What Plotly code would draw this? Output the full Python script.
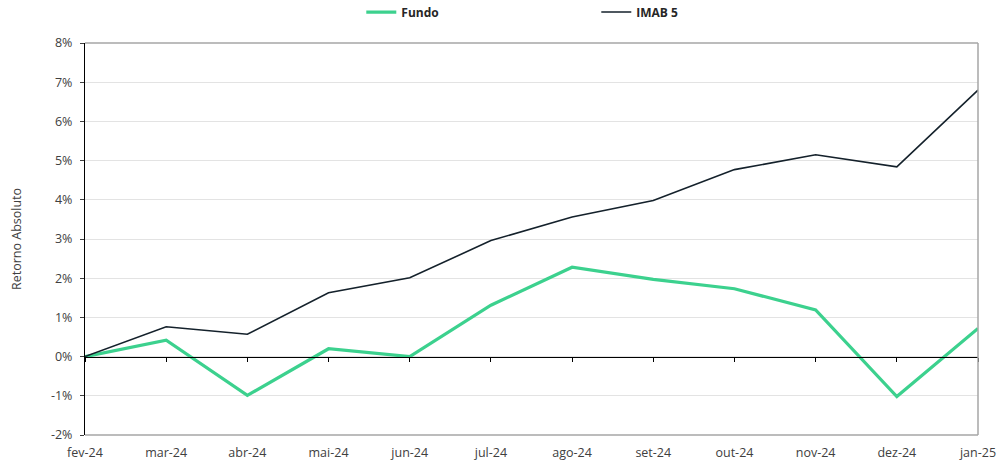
import plotly.graph_objects as go

months = ["fev-24", "mar-24", "abr-24", "mai-24", "jun-24", "jul-24", "ago-24",
          "set-24", "out-24", "nov-24", "dez-24", "jan-25"]
fundo = [0.00, 0.42, -0.99, 0.20, 0.00, 1.31, 2.28, 1.97, 1.73, 1.19, -1.02, 0.72]
imab5 = [0.00, 0.76, 0.57, 1.63, 2.01, 2.96, 3.56, 3.98, 4.77, 5.15, 4.84, 6.80]
y_ticks = [-2, -1, 0, 1, 2, 3, 4, 5, 6, 7, 8]
y_tick_labels = ["-2%", "-1%", "0%", "1%", "2%", "3%", "4%", "5%", "6%", "7%", "8%"]

FONT = "Open Sans"
idx = list(range(len(months)))

fig = go.Figure()
fig.add_trace(go.Scatter(x=idx, y=fundo, name="Fundo", mode="lines",
                         line=dict(color="#3CD18E", width=3.2)))
fig.add_trace(go.Scatter(x=idx, y=imab5, name="IMAB 5", mode="lines",
                         line=dict(color="#14212B", width=1.6)))

fig.update_layout(
    width=997, height=463,
    margin=dict(l=85, r=19, t=43, b=28, autoexpand=False),
    paper_bgcolor="white", plot_bgcolor="white",
    font=dict(family=FONT, size=12.5, color="#404040"),
    showlegend=True,
    legend=dict(orientation="h", x=0.3094, xanchor="left", y=1.079, yref="paper",
                yanchor="middle", entrywidth=190, entrywidthmode="pixels",
                font=dict(family=FONT, size=12, color="#262626", weight="bold"),
                itemwidth=30, tracegroupgap=0),
    xaxis=dict(range=[0, 11], tickvals=idx, ticktext=months, showgrid=False,
               zeroline=False, showline=False, ticks="", ticklabelstandoff=8,
               tickfont=dict(size=12.5, color="#404040")),
    xaxis2=dict(overlaying="x", anchor="free", position=0.2, range=[0, 11],
                tickvals=idx, showticklabels=False, showgrid=False, zeroline=False,
                showline=True, linecolor="#000000", linewidth=1.2,
                ticks="outside", ticklen=4, tickcolor="#000000", tickwidth=1),
    yaxis=dict(range=[-2, 8], tickvals=y_ticks, ticktext=y_tick_labels,
               showgrid=True, gridcolor="#E3E3E3", gridwidth=1, zeroline=False,
               showline=True, linecolor="#000000", linewidth=1.2,
               ticks="outside", ticklen=4, tickcolor="#404040",
               ticklabelstandoff=5,
               tickfont=dict(size=12.5, color="#404040"),
               title=dict(text="Retorno Absoluto", standoff=26,
                          font=dict(size=12.5, color="#404040"))),
    shapes=[dict(type="line", xref="paper", yref="paper", x0=0, x1=1, y0=1, y1=1,
                 line=dict(color="#A6A6A6", width=1.5)),
            dict(type="line", xref="paper", yref="paper", x0=1, x1=1, y0=0, y1=1,
                 line=dict(color="#A6A6A6", width=1.5)),
            dict(type="line", xref="paper", yref="paper", x0=0, x1=1, y0=0, y1=0,
                 line=dict(color="#A6A6A6", width=1.5))],
)
# invisible trace so the zero-crossing category axis renders
fig.add_trace(go.Scatter(x=[0], y=[0], xaxis="x2", mode="markers",
                         marker=dict(opacity=0), showlegend=False, hoverinfo="skip"))

fig.write_html("out.html", config={"displayModeBar": False},
               post_script="document.body.style.margin='0';")
